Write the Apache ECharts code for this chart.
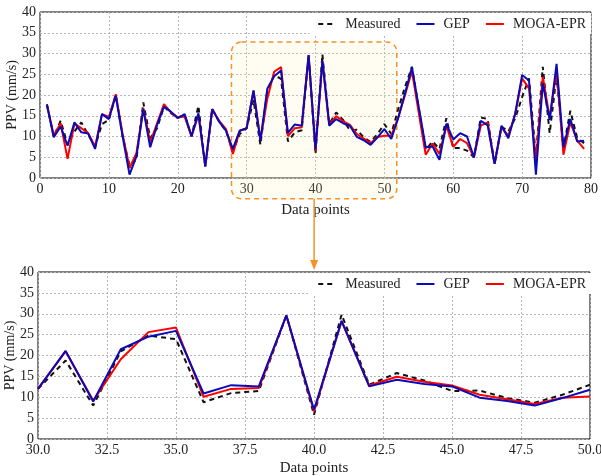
<!DOCTYPE html>
<html lang="en">
<head>
    <meta charset="UTF-8">
    <title>PPV</title>
    <script src="https://cdn.jsdelivr.net/npm/echarts@6/dist/echarts.min.js"></script>
</head>
<body style="margin:0">
<div id="main" style="width: 601px;height:476px;"></div>
<script>
    // data points 1..79
    var measured = [17.7, 10, 13.8, 8, 11.2, 13.4, 10.4, 7.6, 13, 14,
        20, 10, 3, 4.5, 18.2, 9.6, 12, 17.2, 15.6, 14.6,
        15.2, 10, 17.4, 2.8, 16.6, 13.6, 11.4, 6.4, 10.6, 12,
        18.8, 8, 21, 24.8, 23.9, 8.8, 11, 11.5, 29.6, 5.8,
        29.8, 13, 15.8, 14, 11.5, 11.6, 9.8, 8.7, 10.6, 13,
        10.6, 16.5, 22, 26.8, 16.8, 6.8, 8.8, 7, 14.4, 7.2,
        7.2, 6.6, 5, 14.6, 14.2, 3.4, 12.4, 11.2, 14.4, 19.5,
        24, 5, 26.8, 10.8, 24.8, 7.2, 16.2, 9.6, 8.4];
    var gep = [17.7, 9.8, 12.4, 7.8, 13.4, 11, 10.7, 7.0, 15.4, 14.2,
        19.8, 10, 0.8, 5.2, 16.6, 7.4, 12.8, 17.2, 16, 14.4,
        15.4, 10.1, 15.6, 2.8, 16.6, 13.6, 11.4, 7.0, 11.4, 12,
        21.1, 9, 21.5, 24.5, 25.9, 10.9, 12.9, 12.6, 29.6, 7,
        28.3, 12.6, 14.2, 13.2, 12.6, 9.9, 9.1, 8.0, 9.8, 11.8,
        9.4, 14.4, 20.4, 26.7, 17, 7.4, 7.6, 4.4, 13.1, 9.3,
        10.8, 10, 5, 13.8, 12.7, 3.4, 12.6, 9.6, 15.6, 24.8,
        23.5, 0.8, 22.8, 14, 27.5, 7.4, 14.2, 8.8, 9.0];
    var mogaEpr = [17.7, 10.2, 13.2, 4.6, 13.1, 12, 10.8, 7.6, 15.4, 14.7,
        20.2, 10.5, 2.4, 6, 16.8, 8.6, 13.2, 17.8, 15.8, 14.6,
        14.8, 10, 15.2, 2.8, 16.6, 13.8, 11.8, 5.8, 11.4, 12,
        21, 9.2, 19.1, 25.6, 26.7, 10.1, 12, 12.2, 29.6, 6.6,
        28.2, 12.8, 14.9, 13.7, 12.8, 10.6, 9.5, 8.4, 9.9, 10.2,
        10.2, 14.5, 20, 25.8, 15.6, 5.6, 8.3, 5.8, 12.6, 7.5,
        9.4, 8.4, 5, 12.6, 13.4, 3.4, 12.2, 10.2, 15.4, 24,
        21.6, 3.8, 24.4, 14.4, 26, 5.6, 13.4, 9, 7];

    var seriesNames = ['Measured', 'GEP', 'MOGA-EPR'];
    var zoomFrom = 30, zoomTo = 50;

    var font = 'Liberation Serif';

    function pairs(arr, lo, hi) {
        var res = [];
        for (var i = 0; i < arr.length; i++) {
            var x = i + 1;
            if (x >= lo && x <= hi) res.push([x, arr[i]]);
        }
        return res;
    }

    var myChart = echarts.init(document.getElementById('main'));

    function makeSeries(idx, lo, hi) {
        return [
            {name: 'Measured', type: 'line', xAxisIndex: idx, yAxisIndex: idx, symbol: 'none',
                data: pairs(measured, lo, hi), lineStyle: {color: '#111', width: 2, type: [5, 4]}, itemStyle: {color: '#111'}, z: 2},
            {name: 'MOGA-EPR', type: 'line', xAxisIndex: idx, yAxisIndex: idx, symbol: 'none',
                data: pairs(mogaEpr, lo, hi), lineStyle: {color: '#ff0000', width: 2}, itemStyle: {color: '#ff0000'}, z: 3},
            {name: 'GEP', type: 'line', xAxisIndex: idx, yAxisIndex: idx, symbol: 'none',
                data: pairs(gep, lo, hi), lineStyle: {color: '#0a0ab8', width: 2}, itemStyle: {color: '#0a0ab8'}, z: 4}
        ];
    }

    var splitLine = {show: true, lineStyle: {color: '#b5b5b5', type: [2, 2], width: 1}};
    var axisLabel = {color: '#222', fontFamily: font, fontSize: 14, margin: 4};

    function yAxis(idx) {
        return {
            type: 'value', gridIndex: idx, min: 0, max: 40, interval: 5,
            name: 'PPV (mm/s)', nameLocation: 'middle', nameGap: 21, nameMoveOverlap: false,
            nameTextStyle: {fontFamily: font, fontSize: 14, color: '#222'},
            axisLine: {show: false}, axisTick: {show: false},
            axisLabel: axisLabel, splitLine: splitLine
        };
    }

    function legend(top) {
        return {
            data: seriesNames, top: top, right: 10, itemWidth: 18, itemHeight: 12, itemGap: 15,
            padding: [4, 5, 3, 8], backgroundColor: '#fff',
            itemStyle: {opacity: 0},
            textStyle: {fontFamily: font, fontSize: 14, color: '#222', padding: [0, 0, 0, 4]}
        };
    }

    option = {
        animation: false,
        backgroundColor: '#fff',
        textStyle: {fontFamily: font},
        legend: [legend(13), legend(273)],
        grid: [
            {left: 40, top: 12, width: 551, height: 166, outerBoundsMode: 'none', containLabel: false,
                show: true, borderColor: '#000', borderWidth: 1, backgroundColor: 'transparent'},
            {left: 38, top: 272, width: 552, height: 167, outerBoundsMode: 'none', containLabel: false,
                show: true, borderColor: '#000', borderWidth: 1, backgroundColor: 'transparent'}
        ],
        xAxis: [
            {type: 'value', gridIndex: 0, min: 0, max: 80, interval: 10,
                name: 'Data points', nameLocation: 'middle', nameGap: 25, nameMoveOverlap: false,
                nameTextStyle: {fontFamily: font, fontSize: 15, color: '#222'},
                axisLine: {show: false}, axisTick: {show: false},
                axisLabel: axisLabel, splitLine: splitLine},
            {type: 'value', gridIndex: 1, min: zoomFrom, max: zoomTo, interval: 2.5,
                name: 'Data points', nameLocation: 'middle', nameGap: 22, nameMoveOverlap: false,
                nameTextStyle: {fontFamily: font, fontSize: 15, color: '#222'},
                axisLine: {show: false}, axisTick: {show: false},
                axisLabel: Object.assign({}, axisLabel, {formatter: function (v) { return v.toFixed(1); }}),
                splitLine: splitLine}
        ],
        yAxis: [yAxis(0), yAxis(1)],
        series: makeSeries(0, 1, 79).concat(makeSeries(1, zoomFrom, zoomTo))
    };

    myChart.setOption(option);

    // highlighted zoom window on the top chart, with an arrow to the lower one
    var p1 = myChart.convertToPixel({gridIndex: 0}, [27.8, 32.8]);
    var p2 = myChart.convertToPixel({gridIndex: 0}, [51.8, -5]);
    var arrowX = (p1[0] + p2[0]) / 2;
    var arrowEnd = 270;
    var orange = '#f59127';

    myChart.setOption({
        graphic: [
            {type: 'rect', z: 1, silent: true,
                shape: {x: p1[0], y: p1[1], width: p2[0] - p1[0], height: p2[1] - p1[1], r: 10},
                style: {fill: 'rgba(255,240,170,0.16)', stroke: orange, lineWidth: 1.5, lineDash: [5, 4]}},
            {type: 'line', z: 1, silent: true,
                shape: {x1: arrowX, y1: p2[1], x2: arrowX, y2: arrowEnd - 8},
                style: {stroke: orange, lineWidth: 1.5}},
            {type: 'polygon', z: 1, silent: true,
                shape: {points: [[arrowX - 4, arrowEnd - 10], [arrowX + 4, arrowEnd - 10], [arrowX, arrowEnd]]},
                style: {fill: orange}}
        ]
    });
</script>
</body>
</html>
